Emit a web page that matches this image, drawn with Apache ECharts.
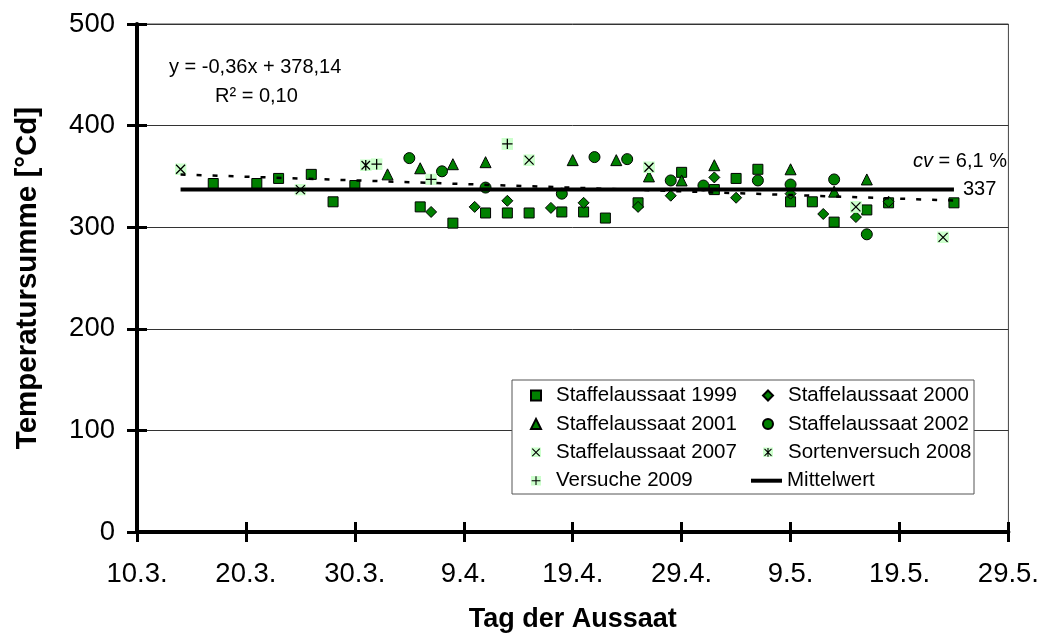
<!DOCTYPE html>
<html>
<head>
<meta charset="utf-8">
<script src="https://cdn.jsdelivr.net/npm/echarts@6/dist/echarts.min.js"></script>
<style>
html, body { margin: 0; padding: 0; background: #fff; }
#chart { width: 1042px; height: 638px; }
</style>
</head>
<body>
<div id="chart"></div>
<script>
// x = Tage ab 10.3. (10.3. ist Tag 69 im Jahr), y = Temperatursumme [°Cd]
const xTickLabels = ['10.3.', '20.3.', '30.3.', '9.4.', '19.4.', '29.4.', '9.5.', '19.5.', '29.5.']

const staffel1999 = [[7, 343], [11, 343], [13, 348], [16, 352], [18, 325], [20, 341], [26, 320], [29, 304],
  [32, 314], [34, 314], [36, 314], [39, 315], [41, 315], [43, 309], [46, 324], [50, 354], [53, 337],
  [55, 348], [57, 357], [60, 325], [62, 325], [64, 305], [67, 317], [69, 324], [75, 324]]
const staffel2000 = [[27, 315], [31, 320], [34, 326], [38, 319], [41, 324], [46, 320], [49, 331],
  [53, 349], [55, 329], [60, 333], [63, 313], [66, 310], [69, 325]]
const staffel2001 = [[23, 352], [26, 358], [29, 362], [32, 364], [40, 366], [44, 366], [47, 350],
  [50, 346], [53, 361], [60, 357], [64, 335], [67, 347]]
const staffel2002 = [[25, 368], [28, 355], [32, 339], [39, 333], [42, 369], [45, 367], [49, 346],
  [52, 341], [57, 346], [60, 342], [64, 347], [67, 293]]
const staffel2007 = [[4, 357], [15, 337], [36, 366], [47, 359], [66, 320], [74, 290]]
const sorten2008 = [[21, 361]]
const versuche2009 = [[22, 362], [27, 347], [34, 382]]

const mittelwert = 337
const trendSlope = -0.36
const trendIntercept = 378.14
const dayOfYearStart = 69 // 10.3.

const allPoints = [].concat(staffel1999, staffel2000, staffel2001, staffel2002, staffel2007, sorten2008, versuche2009)
const xMin = Math.min(...allPoints.map(p => p[0]))
const xMax = Math.max(...allPoints.map(p => p[0]))
const meanData = [[xMin, mittelwert], [xMax, mittelwert]]
const trendData = [xMin, xMax].map(x => [x, trendSlope * (x + dayOfYearStart) + trendIntercept])

const FONT = '"Liberation Sans", Arial, Helvetica, sans-serif'
const GREEN = '#008000'

// Excel-Marker mit hellgruenem Hintergrund
const svgSymbol = (d) => 'image://data:image/svg+xml;charset=utf-8,' + encodeURIComponent(
  '<svg xmlns="http://www.w3.org/2000/svg" width="36" height="36" viewBox="0 0 12 12">' +
  '<rect width="12" height="12" fill="#ccffcc"/>' +
  '<path d="' + d + '" stroke="#000" stroke-width="1.3" fill="none"/></svg>')
const symX = svgSymbol('M1.5 1.5L10.5 10.5M10.5 1.5L1.5 10.5')
const symPlus = svgSymbol('M6 0.8V11.2M0.8 6H11.2')
const symStar = svgSymbol('M1.8 1.8L10.2 10.2M10.2 1.8L1.8 10.2M6 0.8V11.2')

const filled = { color: GREEN, borderColor: '#000', borderWidth: 1, opacity: 1 }

const scatter = (name, data, symbol, size, itemStyle) => ({
  name, type: 'scatter', data, symbol, symbolSize: size,
  itemStyle: itemStyle || { color: '#000', opacity: 1 }, z: 3
})

const legendText = { fontSize: 20.5, lineHeight: 21, color: '#000', fontFamily: FONT }
const rowGap = 7.4
const markerLegend = (left, names) => ({
  orient: 'vertical', left, top: 385, padding: 0, z: 10,
  itemWidth: 10, itemHeight: 10, itemGap: rowGap,
  textStyle: Object.assign({ padding: [0, 0, 0, 10] }, legendText),
  data: names
})

const chart = echarts.init(document.getElementById('chart'), null, { renderer: 'canvas' })

const option = {
  animation: false,
  textStyle: { fontFamily: FONT, color: '#000' },
  grid: {
    left: 137, right: 33, top: 24, bottom: 105,
    show: true, borderColor: '#444', borderWidth: 1, backgroundColor: 'transparent'
  },
  xAxis: [
    {
      type: 'value', min: 0, max: 80, interval: 10, position: 'bottom',
      name: 'Tag der Aussaat', nameLocation: 'middle', nameGap: 74,
      nameTextStyle: { fontSize: 27, fontWeight: 'bold', color: '#000', fontFamily: FONT },
      axisLine: { lineStyle: { color: '#000', width: 4 } },
      axisTick: { length: 10, lineStyle: { color: '#000', width: 3 } },
      axisLabel: {
        fontSize: 27.5, color: '#000', margin: 28, fontFamily: FONT,
        formatter: v => xTickLabels[Math.round(v / 10)]
      },
      splitLine: { show: false }
    },
    {
      type: 'value', min: 0, max: 80, interval: 10, position: 'bottom',
      axisLine: { show: false },
      axisTick: { inside: true, length: 10, lineStyle: { color: '#000', width: 3 } },
      axisLabel: { show: false },
      splitLine: { show: false }
    }
  ],
  yAxis: [
    {
      type: 'value', min: 0, max: 500, interval: 100, position: 'left',
      name: 'Temperatursumme [°Cd]', nameLocation: 'middle', nameGap: 94, nameRotate: 90,
      nameTextStyle: { fontSize: 29.5, fontWeight: 'bold', color: '#000', fontFamily: FONT },
      axisLine: { show: true, lineStyle: { color: '#000', width: 4 } },
      axisTick: { show: true, length: 10, lineStyle: { color: '#000', width: 3 } },
      axisLabel: { fontSize: 27.5, color: '#000', margin: 22, fontFamily: FONT },
      splitLine: { show: true, lineStyle: { color: '#333', width: 1 } }
    },
    {
      type: 'value', min: 0, max: 500, interval: 100, position: 'left',
      axisLine: { show: false },
      axisTick: { show: true, inside: true, length: 10, lineStyle: { color: '#000', width: 3 } },
      axisLabel: { show: false },
      splitLine: { show: false }
    }
  ],
  legend: [
    markerLegend(530, ['Staffelaussaat 1999', 'Staffelaussaat 2001', 'Staffelaussaat 2007', 'Versuche 2009']),
    markerLegend(762, ['Staffelaussaat 2000', 'Staffelaussaat 2002', 'Sortenversuch 2008']),
    {
      orient: 'vertical', left: 751, top: 385 + 3 * (21 + rowGap), padding: 0, z: 10,
      itemWidth: 31, itemHeight: 4, icon: 'rect',
      textStyle: legendText,
      data: ['Mittelwert']
    }
  ],
  graphic: [
    {
      type: 'rect', z: 3, silent: true,
      shape: { x: 512, y: 380, width: 462, height: 114 },
      style: { fill: '#fff', stroke: '#555', lineWidth: 1 }
    },
    {
      type: 'text', left: 169, top: 57, z: 10,
      style: { text: 'y = -0,36x + 378,14', font: '20px ' + FONT, fill: '#000' }
    },
    {
      type: 'text', left: 215, top: 86, z: 10,
      style: { text: 'R² = 0,10', font: '20px ' + FONT, fill: '#000' }
    },
    {
      type: 'text', right: 35, top: 151, z: 10,
      style: {
        text: '{i|cv} = 6,1 %', font: '20px ' + FONT, fill: '#000',
        rich: { i: { fontStyle: 'italic', fontSize: 20, fontFamily: FONT, fill: '#000' } }
      }
    }
  ],
  series: [
    scatter('Staffelaussaat 1999', staffel1999, 'rect', 10, filled),
    scatter('Staffelaussaat 2000', staffel2000, 'diamond', 11, filled),
    scatter('Staffelaussaat 2001', staffel2001, 'triangle', 11, filled),
    scatter('Staffelaussaat 2002', staffel2002, 'circle', 11, filled),
    scatter('Staffelaussaat 2007', staffel2007, symX, 12),
    scatter('Sortenversuch 2008', sorten2008, symStar, 12),
    scatter('Versuche 2009', versuche2009, symPlus, 12),
    {
      name: 'Mittelwert', type: 'line', data: meanData, symbol: 'none', z: 5,
      lineStyle: { color: '#000', width: 4 }, itemStyle: { color: '#000' },
      endLabel: { show: true, formatter: String(mittelwert), fontSize: 20, color: '#000', distance: 9, fontFamily: FONT }
    },
    {
      name: 'Trend', type: 'line', data: trendData, symbol: 'none', z: 6,
      lineStyle: { color: '#000', width: 2.5, type: [5, 11] }
    }
  ]
}

chart.setOption(option)
</script>
</body>
</html>
